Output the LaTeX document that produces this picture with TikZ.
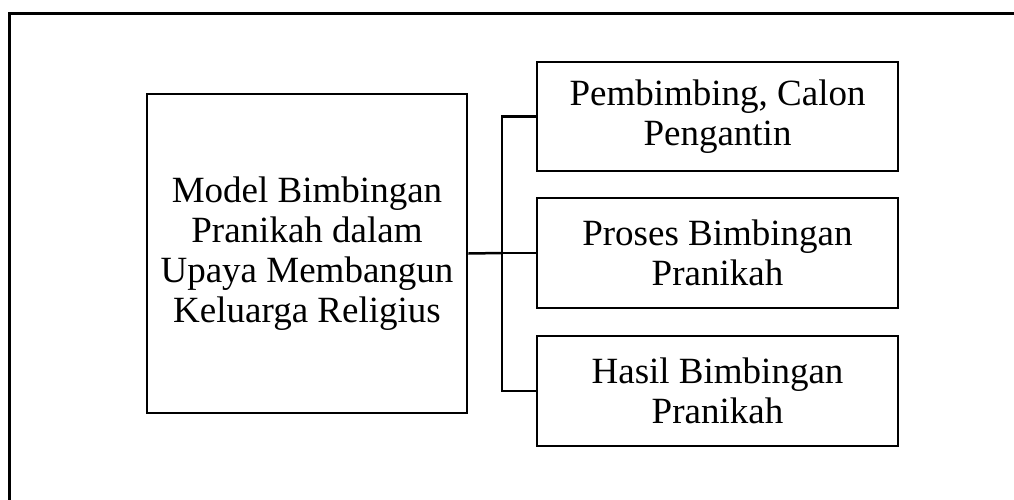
\documentclass[tikz,border=0pt]{standalone}
\usepackage{fontspec}
\setmainfont{Liberation Serif}
\begin{document}
\begin{tikzpicture}[x=1pt,y=-1pt,
    box/.style={draw,line width=2.8pt,align=center,inner sep=0pt,
        font=\fontsize{37}{40}\selectfont},
    link/.style={line width=2.5pt}]
    % Fix the size of the page
    \useasboundingbox (0,0) rectangle (1014,500);
    \clip (0,0) rectangle (1014,500);

    % Outer frame (runs past the right and bottom edges)
    \draw[line width=3pt] (9,14) rectangle (1030,520);

    % Main box on the left
    \node[box,minimum width=320,minimum height=319] (model) at (307,253.5)
        {Model Bimbingan\\Pranikah dalam\\Upaya Membangun\\Keluarga Religius};

    % The three boxes on the right
    \node[box,minimum width=361,minimum height=109] (pembimbing) at (717.5,116.5)
        {Pembimbing, Calon\\Pengantin};
    \node[box,minimum width=361,minimum height=110] (proses) at (717.5,253)
        {Proses Bimbingan\\Pranikah};
    \node[box,minimum width=361,minimum height=110] (hasil) at (717.5,391)
        {Hasil Bimbingan\\Pranikah};

    % Branch point between them
    \coordinate (fork) at (502,253);

    % Connectors
    \draw[link] (model.east) -- (fork);
    \draw[link] (fork) -- (proses.west);
    \draw[link] (pembimbing.west) -| (fork);
    \draw[link] (hasil.west) -| (fork);
\end{tikzpicture}
\end{document}
